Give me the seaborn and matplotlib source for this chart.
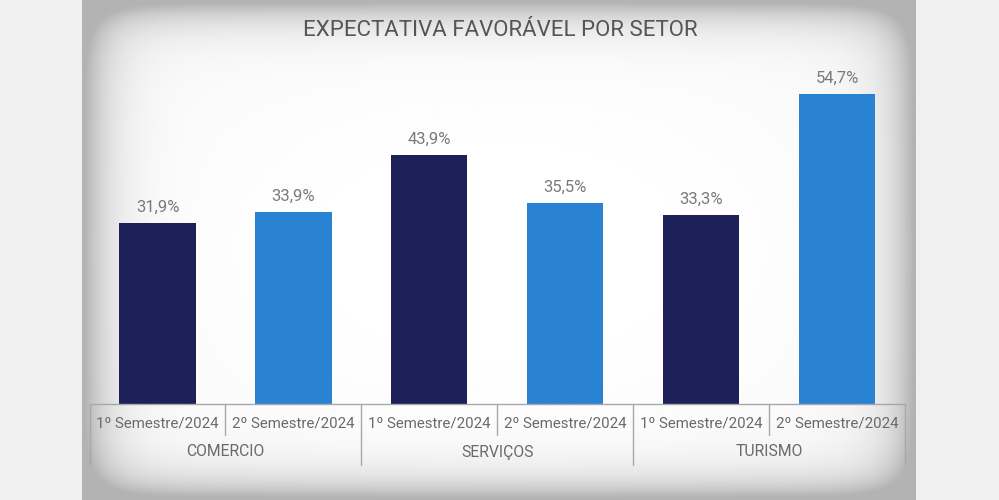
import matplotlib
matplotlib.use("Agg")
import matplotlib.pyplot as plt
import seaborn as sns
import numpy as np
import pandas as pd

# dados
setores = ["COMERCIO", "SERVIÇOS", "TURISMO"]
semestres = ["1º Semestre/2024", "2º Semestre/2024"]
sem1 = [31.9, 43.9, 33.3]
sem2 = [33.9, 35.5, 54.7]

df = pd.DataFrame({
    "setor": setores * 2,
    "semestre": [semestres[0]] * 3 + [semestres[1]] * 3,
    "valor": sem1 + sem2,
})

sns.set_theme(style="white")
plt.rcParams["font.family"] = ["Roboto", "DejaVu Sans"]
cinza = "#6a6a6a"
cores = ["#1d2159", "#2a82d2"]

fig = plt.figure(figsize=(9.99, 5), dpi=100)
fig.patch.set_facecolor("#f0f0f0")

# fundo (painel com vinheta suave)
bg = fig.add_axes([82 / 999, 0, (916 - 82) / 999, 1], zorder=0)
yy, xx = np.mgrid[-1:1:200j, -1:1:400j]
d = np.clip(np.abs(xx) ** 16 + np.abs(yy) ** 12 + 0.06 * (xx ** 2 + yy ** 2), 0, 1)
bg.imshow(1 - 0.3 * d, cmap="gray", vmin=0, vmax=1, aspect="auto",
          extent=[0, 1, 0, 1], interpolation="bicubic")
bg.set_axis_off()

ax = fig.add_axes([89.6 / 999, (500 - 404) / 500, (905 - 89.6) / 999, 344 / 500], zorder=1)
ax.patch.set_alpha(0)
sns.barplot(data=df, x="setor", y="valor", hue="semestre", order=setores,
            hue_order=semestres, palette=cores, saturation=1, width=1, gap=0.44,
            edgecolor="none", linewidth=0, legend=False, ax=ax)

for cont in ax.containers:
    ax.bar_label(cont, labels=[f"{v:.1f}%".replace(".", ",") for v in cont.datavalues],
                 padding=6, fontsize=12, color="#7a7a7a")

ax.set_xlim(-0.5, 2.5)
ax.set_ylim(0, 60.7)
ax.set_xlabel("")
ax.set_ylabel("")
ax.set_xticks([])
ax.set_yticks([])
sns.despine(ax=ax, left=True, bottom=True)

# tabela de rótulos do eixo x
tr = ax.get_xaxis_transform()
px = 1 / 344
ax.plot([-0.5, 2.5], [0, 0], transform=tr, color="#a8a8a8", lw=1, clip_on=False)
for i, s in enumerate(setores):
    ax.plot([i, i], [0, -31 * px], transform=tr, color="#a8a8a8", lw=1, clip_on=False)
    for j, dx in enumerate([-0.25, 0.25]):
        ax.text(i + dx, -19 * px, semestres[j], transform=tr, ha="center", va="center",
                fontsize=10.8, color=cinza)
    ax.text(i, -48 * px, s, transform=tr, ha="center", va="center", fontsize=11.3, color=cinza)
for b in [-0.5, 0.5, 1.5, 2.5]:
    ax.plot([b, b], [0, -61 * px], transform=tr, color="#a8a8a8", lw=1, clip_on=False)

fig.text(500 / 999, 1 - 30 / 500, "EXPECTATIVA FAVORÁVEL POR SETOR", ha="center", va="center",
         fontsize=16, color="#555555")

fig.savefig("out.png", dpi=100, facecolor=fig.get_facecolor())
